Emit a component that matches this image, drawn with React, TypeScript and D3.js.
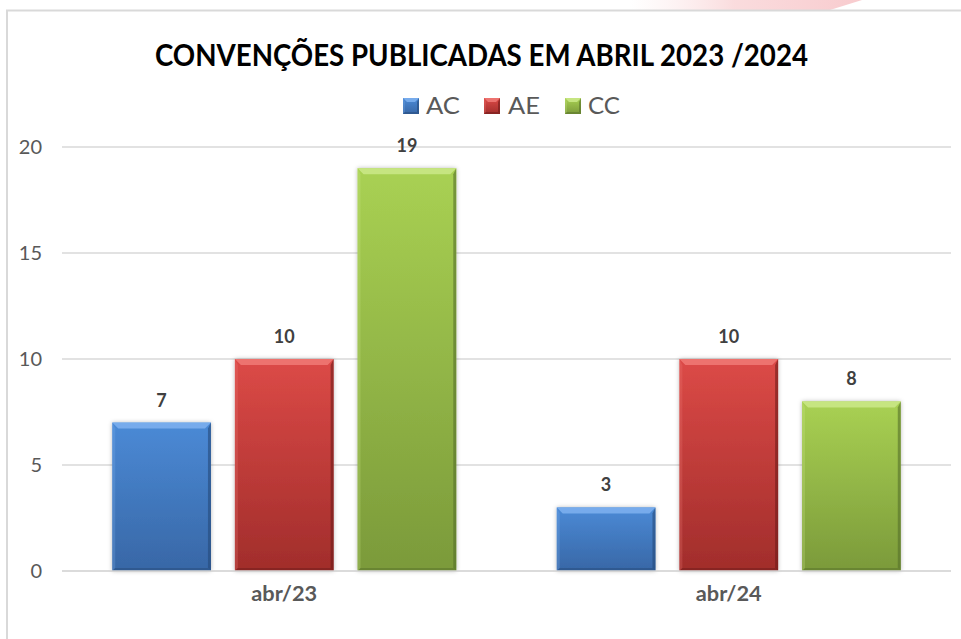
import React from "react";
import * as d3 from "d3";

const categories = ["abr/23", "abr/24"];
const seriesNames = ["AC", "AE", "CC"];
const acValues = [7, 3];
const aeValues = [10, 10];
const ccValues = [19, 8];
const yTicks = [0, 5, 10, 15, 20];

const W = 961;
const H = 639;
const plot = { left: 62, right: 951, top: 147, bottom: 571 };

const palette: Record<string, { top: string; bottom: string; light: string; dark: string }> = {
  AC: { top: "#4b8ad6", bottom: "#3867a6", light: "#7fb2f0", dark: "#25497a" },
  AE: { top: "#dc4a47", bottom: "#a12d2b", light: "#f07a77", dark: "#6e1a19" },
  CC: { top: "#a9d153", bottom: "#7b9a3a", light: "#cbe98a", dark: "#55702a" },
};

const FONT = "Lato, 'Open Sans', sans-serif";

function BevelBar({ x, y, w, h, name, b = 6, shadow = true }: any) {
  const c = palette[name];
  const bb = Math.min(b, h / 2, w / 2);
  return (
    <g>
      <rect x={x} y={y} width={w} height={h} fill={`url(#grad-${name})`} filter={shadow ? "url(#barShadow)" : undefined} />
      <polygon
        points={`${x},${y} ${x + w},${y} ${x + w - bb},${y + bb} ${x + bb},${y + bb}`}
        fill={c.light}
        opacity={0.85}
      />
      <polygon
        points={`${x},${y} ${x + bb * 0.5},${y + bb} ${x + bb * 0.5},${y + h - bb * 0.5} ${x},${y + h}`}
        fill={c.light}
        opacity={0.25}
      />
      <polygon
        points={`${x + w},${y} ${x + w - bb * 0.5},${y + bb} ${x + w - bb * 0.5},${y + h - bb * 0.5} ${x + w},${y + h}`}
        fill={c.dark}
        opacity={0.6}
      />
      <polygon
        points={`${x},${y + h} ${x + w},${y + h} ${x + w - bb * 0.5},${y + h - bb * 0.5} ${x + bb * 0.5},${y + h - bb * 0.5}`}
        fill={c.dark}
        opacity={0.5}
      />
    </g>
  );
}

export default function App() {
  const valuesBySeries: Record<string, number[]> = { AC: acValues, AE: aeValues, CC: ccValues };

  const x0 = d3
    .scaleBand<string>()
    .domain(categories)
    .range([plot.left, plot.right])
    .paddingInner(0.226)
    .paddingOuter(0.113);
  const x1 = d3
    .scaleBand<string>()
    .domain(seriesNames)
    .range([0, x0.bandwidth()])
    .paddingInner(0.195)
    .paddingOuter(0);
  const y = d3.scaleLinear().domain([0, 20]).range([plot.bottom, plot.top]);

  const legendItems = [
    { name: "AC", sx: 403, tx: 426 },
    { name: "AE", sx: 484, tx: 508 },
    { name: "CC", sx: 565, tx: 588 },
  ];

  return (
    <svg
      width={W}
      height={H}
      style={{ position: "absolute", left: 0, top: 0, background: "#fff" }}
      fontFamily={FONT}
    >
      <defs>
        {seriesNames.map((n) => (
          <linearGradient key={n} id={`grad-${n}`} x1="0" y1="0" x2="0" y2="1">
            <stop offset="0%" stopColor={palette[n].top} />
            <stop offset="100%" stopColor={palette[n].bottom} />
          </linearGradient>
        ))}
        <linearGradient id="pinkGrad" x1="0" y1="0" x2="1" y2="0">
          <stop offset="0%" stopColor="#fbe3e4" stopOpacity={0} />
          <stop offset="45%" stopColor="#f9d3d5" stopOpacity={0.8} />
          <stop offset="100%" stopColor="#f8cbce" />
        </linearGradient>
        <filter id="barShadow" x="-20%" y="-20%" width="140%" height="140%">
          <feDropShadow dx="0" dy="0" stdDeviation="2.2" floodColor="#000" floodOpacity="0.28" />
        </filter>
      </defs>

      <polygon points="630,0 862,0 830,10 630,10" fill="url(#pinkGrad)" />

      <line x1={6} x2={W} y1={10.5} y2={10.5} stroke="#d9d9d9" strokeWidth={2} />
      <line x1={7} x2={7} y1={10} y2={H} stroke="#d9d9d9" strokeWidth={2} />

      <text
        x={481.5}
        y={66}
        textAnchor="middle"
        fontSize={31}
        fontWeight="bold"
        fill="#000"
        textLength={653}
        lengthAdjust="spacingAndGlyphs"
      >
        CONVENÇÕES PUBLICADAS EM ABRIL 2023 /2024
      </text>

      {legendItems.map((it) => (
        <g key={it.name}>
          <BevelBar x={it.sx} y={98} w={16} h={16} name={it.name} b={4} shadow={false} />
          <text x={it.tx} y={114} fontSize={23} fill="#595959" textLength={it.name === "AC" ? 34 : 32} lengthAdjust="spacingAndGlyphs">
            {it.name}
          </text>
        </g>
      ))}

      {yTicks.map((t) => (
        <line
          key={t}
          x1={plot.left}
          x2={plot.right}
          y1={y(t)}
          y2={y(t)}
          stroke="#d9d9d9"
          strokeWidth={1.5}
        />
      ))}

      {yTicks.map((t) => (
        <text key={t} x={42} y={y(t) + 7} textAnchor="end" fontSize={20} fill="#595959">
          {t}
        </text>
      ))}

      {categories.map((cat, ci) => (
        <g key={cat}>
          {seriesNames.map((s) => {
            const v = valuesBySeries[s][ci];
            const bx = (x0(cat) as number) + (x1(s) as number);
            const by = y(v);
            const bw = x1.bandwidth();
            const bh = y(0) - y(v);
            return (
              <g key={s}>
                <BevelBar x={bx} y={by} w={bw} h={bh} name={s} />
                <text
                  x={bx + bw / 2}
                  y={by - 16}
                  textAnchor="middle"
                  fontSize={18}
                  fontWeight="bold"
                  fill="#404040"
                >
                  {v}
                </text>
              </g>
            );
          })}
        </g>
      ))}

      <line x1={plot.left} x2={plot.right} y1={y(0)} y2={y(0)} stroke="#d9d9d9" strokeWidth={1.5} />

      {categories.map((cat) => (
        <text
          key={cat}
          x={(x0(cat) as number) + x0.bandwidth() / 2}
          y={601}
          textAnchor="middle"
          fontSize={20}
          fontWeight="bold"
          fill="#595959"
          textLength={66}
          lengthAdjust="spacingAndGlyphs"
        >
          {cat}
        </text>
      ))}
    </svg>
  );
}
